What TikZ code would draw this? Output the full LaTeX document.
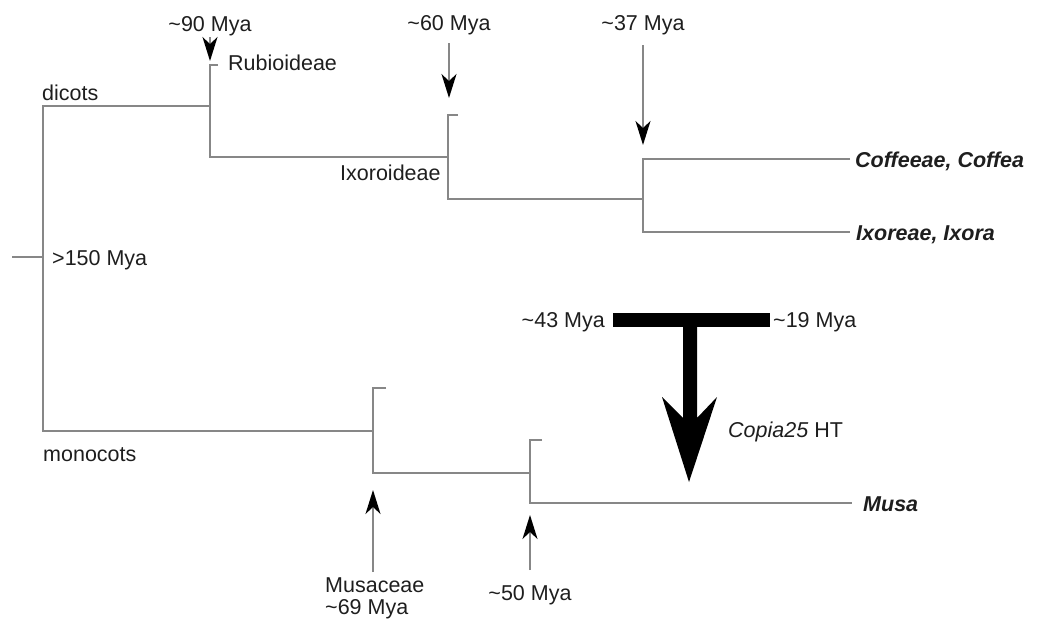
\documentclass[tikz,border=0pt]{standalone}
\usepackage{fontspec}
\setmainfont{Liberation Sans}
\usetikzlibrary{arrows.meta}
\definecolor{treegray}{RGB}{135,135,135}
\definecolor{txt}{RGB}{30,30,30}
\begin{document}
\begin{tikzpicture}[x=1pt,y=-1pt,
  branch/.style={draw=treegray, line width=2pt, line join=miter},
  marker/.style={draw=treegray, line width=1.6pt,
    -{Stealth[length=24pt,width=15pt,inset=7pt,color=black]}},
  lbl/.style={font=\fontsize{21.5}{24}\selectfont, text=txt, inner sep=0pt},
  taxon/.style={lbl, font=\fontsize{21.5}{24}\selectfont\bfseries\itshape, anchor=base west},
  bigbar/.style={fill=black}]
\useasboundingbox (0,0) rectangle (1039,624);
% tree coordinates
\coordinate (stub) at (12,257);
\coordinate (root) at (43,257);
\coordinate (rub) at (210,106);
\coordinate (rubtop) at (210,65);
\coordinate (rubtip) at (218,65);
\coordinate (rubbot) at (210,157);
\coordinate (ixo) at (448,157);
\coordinate (ixotop) at (448,115);
\coordinate (ixotip) at (458,115);
\coordinate (ixobot) at (448,199);
\coordinate (cof) at (643,199);
\coordinate (coftop) at (643,159);
\coordinate (cofbot) at (643,232);
\coordinate (coffea) at (850,159);
\coordinate (ixora) at (850,232);
\coordinate (mus) at (373,431);
\coordinate (mustop) at (373,388);
\coordinate (mustip) at (386,388);
\coordinate (musbot) at (373,473);
\coordinate (fifty) at (530,473);
\coordinate (fiftytop) at (530,440);
\coordinate (fiftytip) at (542,440);
\coordinate (fiftybot) at (530,503);
\coordinate (musa) at (852,503);
% branches
\draw[branch] (stub) -- (root);
\draw[branch] (rub) -| (root) |- (mus);
\draw[branch] (rubtip) -- (rubtop) -- (rubbot) -- (ixo);
\draw[branch] (ixotip) -- (ixotop) -- (ixobot) -- (cof);
\draw[branch] (coffea) -- (coftop) -- (cofbot) -- (ixora);
\draw[branch] (mustip) -- (mustop) -- (musbot) -- (fifty);
\draw[branch] (fiftytip) -- (fiftytop) -- (fiftybot) -- (musa);
% labels
\node[lbl, anchor=base] (l90) at (210,31) {\textasciitilde 90 Mya};
\node[lbl, anchor=base west] (lrub) at (228,70) {Rubioideae};
\node[lbl, anchor=base west] (ldic) at (42,100) {dicots};
\node[lbl, anchor=base west] (l150) at (52,265) {>150 Mya};
\node[lbl, anchor=base] (l60) at (449,30) {\textasciitilde 60 Mya};
\node[lbl, anchor=base] (l37) at (643,30) {\textasciitilde 37 Mya};
\node[lbl, anchor=base west] (lixo) at (340,180) {Ixoroideae};
\node[taxon] (lcof) at (855,167) {Coffeeae, Coffea};
\node[taxon] (lixora) at (856,240) {Ixoreae, Ixora};
\node[lbl, anchor=base east] (l43) at (605,327) {\textasciitilde 43 Mya};
\node[lbl, anchor=base west] (l19) at (773,327) {\textasciitilde 19 Mya};
\node[lbl, anchor=base west] (lcop) at (728,437) {\textit{Copia25} HT};
\node[lbl, anchor=base west] (lmono) at (43,461) {monocots};
\node[taxon] (lmusa) at (863,511) {Musa};
\node[lbl, anchor=base west] (lmusc) at (325,592) {Musaceae};
\node[lbl, anchor=base west] (l69) at (325,614) {\textasciitilde 69 Mya};
\node[lbl, anchor=base] (l50) at (530,600) {\textasciitilde 50 Mya};
% age markers
\coordinate (a90s) at (210,37);
\coordinate (a90e) at (210,61);
\coordinate (a60s) at (449,43);
\coordinate (a60e) at (449,98);
\coordinate (a37s) at (643,45);
\coordinate (a37e) at (643,145);
\coordinate (a69s) at (373,572);
\coordinate (a69e) at (373,490);
\coordinate (a50s) at (530,570);
\coordinate (a50e) at (530,515);
\draw[marker] (a90s) -- (a90e);
\draw[marker] (a60s) -- (a60e);
\draw[marker] (a37s) -- (a37e);
\draw[marker] (a69s) -- (a69e);
\draw[marker] (a50s) -- (a50e);
% horizontal transfer arrow
\fill[bigbar] (613,313) rectangle (770,327);
\fill[bigbar] (683,326) -- (683,418) -- (662,397) -- (689,482) -- (717,397) -- (697,418) -- (697,326) -- cycle;
\end{tikzpicture}
\end{document}
